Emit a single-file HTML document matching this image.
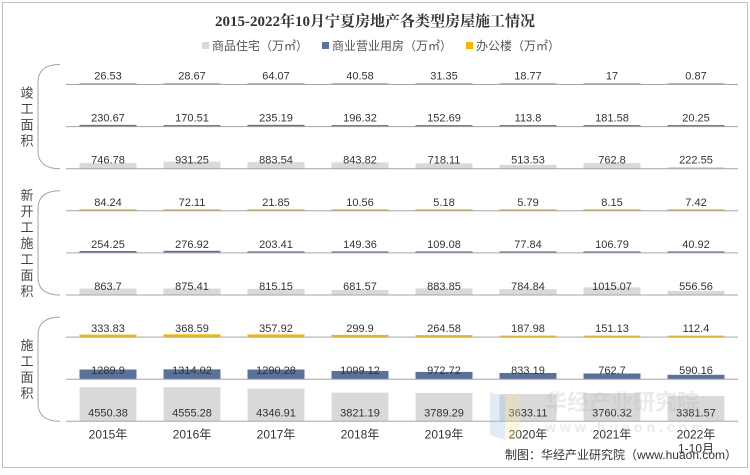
<!DOCTYPE html>
<html><head><meta charset="utf-8">
<style>
html,body{margin:0;padding:0;background:#fff;}
body{width:750px;height:470px;overflow:hidden;font-family:"Liberation Sans","Noto Sans CJK SC",sans-serif;}
svg text{font-family:"Liberation Sans","Noto Sans CJK SC",sans-serif;}
svg text.title{font-family:"Liberation Serif","Noto Serif CJK SC",serif;}
</style></head><body>
<svg id="chart" width="750" height="470" xmlns="http://www.w3.org/2000/svg">
<rect x="2.5" y="2.5" width="745" height="465" fill="#fff" stroke="#bfbfbf"/>
<text class="title" x="375" y="26" text-anchor="middle" font-size="15" font-weight="bold" fill="#333">2015-2022年10月宁夏房地产各类型房屋施工情况</text>
<g font-size="12" fill="#555">
<g><rect x="202" y="42" width="7" height="7" fill="#d9d9d9"/><text x="212" y="50">商品住宅（万㎡）</text></g>
<g><rect x="322" y="42" width="7" height="7" fill="#5b7199"/><text x="332" y="50">商业营业用房（万㎡）</text></g>
<g><rect x="466" y="42" width="7" height="7" fill="#f2b600"/><text x="476" y="50">办公楼（万㎡）</text></g>
</g>
<g id="brackets" fill="none" stroke="#a6a6a6" stroke-width="1"></g>
<g id="plot"></g>
<g opacity="0.3">
<polygon points="490,392 505,397 505,440 490,435" fill="#9dc3e6"/>
<polygon points="505,397 520,392 520,435 505,440" fill="#ffe699"/>
<text x="545" y="410" font-size="22" font-weight="bold" fill="#bbb">华经产业研究院</text>
<text x="545" y="432" font-size="14" font-weight="bold" fill="#bbb" letter-spacing="4">www.huaon.com</text>
</g>
<text x="737" y="459" text-anchor="end" font-size="12" fill="#333">制图：华经产业研究院（www.huaon.com）</text>
</svg>
<script>
const categories=["2015年","2016年","2017年","2018年","2019年","2020年","2021年","2022年"];
const groups=["竣工面积","新开工施工面积","施工面积"];
const groupLabels=[["竣","工","面","积"],["新","开","工","施","工","面","积"],["施","工","面","积"]];
const doneOffice=[26.53,28.67,64.07,40.58,31.35,18.77,17,0.87];
const doneCommercial=[230.67,170.51,235.19,196.32,152.69,113.8,181.58,20.25];
const doneResidential=[746.78,931.25,883.54,843.82,718.11,513.53,762.8,222.55];
const newOffice=[84.24,72.11,21.85,10.56,5.18,5.79,8.15,7.42];
const newCommercial=[254.25,276.92,203.41,149.36,109.08,77.84,106.79,40.92];
const newResidential=[863.7,875.41,815.15,681.57,883.85,784.84,1015.07,556.56];
const conOffice=[333.83,368.59,357.92,299.9,264.58,187.98,151.13,112.4];
const conCommercial=[1289.9,1314.02,1290.28,1099.12,972.72,833.19,762.7,590.16];
const conResidential=[4550.38,4555.28,4346.91,3821.19,3789.29,3633.11,3760.32,3381.57];

const rows=[
 {d:doneOffice,c:"#f2b600",n:"done-office"},
 {d:doneCommercial,c:"#5b7199",n:"done-commercial"},
 {d:doneResidential,c:"#d9d9d9",n:"done-residential"},
 {d:newOffice,c:"#f2b600",n:"new-office"},
 {d:newCommercial,c:"#5b7199",n:"new-commercial"},
 {d:newResidential,c:"#d9d9d9",n:"new-residential"},
 {d:conOffice,c:"#f2b600",n:"construction-office"},
 {d:conCommercial,c:"#5b7199",n:"construction-commercial"},
 {d:conResidential,c:"#d9d9d9",n:"construction-residential"}
];
const NS="http://www.w3.org/2000/svg";
const plot=document.getElementById('plot');
const x0=66,x1=738,bw=(x1-x0)/categories.length,barW=57;
const firstBase=84.5,rowStep=42.1;
const xC=i=>x0+bw*(i+0.5);
const yBase=r=>firstBase+rowStep*r;
const hScale=v=>v/133.5;
function mk(t,a){const e=document.createElementNS(NS,t);for(const k in a)e.setAttribute(k,a[k]);return e;}
rows.forEach((row,r)=>{
  const b=yBase(r);
  row.d.forEach((v,i)=>{
    const h=Math.max(1.5,hScale(v));
    const rect=mk('rect',{x:xC(i)-barW/2,y:b-h,width:barW,height:h,fill:row.c});
    
    
    plot.appendChild(rect);
    const t=mk('text',{x:xC(i),y:b-5,'text-anchor':'middle','font-size':'11',fill:'#333'});
    t.textContent=String(v);
    
    
    plot.appendChild(t);
  });
  const ln=mk('line',{x1:x0,x2:x1,y1:b,y2:b,stroke:'#a6a6a6','stroke-width':1});
  
  
  plot.appendChild(ln);
});
categories.forEach((c,i)=>{
  const t=mk('text',{x:xC(i),y:yBase(8)+17,'text-anchor':'middle','font-size':'12',fill:'#333'});
  t.textContent=c;
  
  
  plot.appendChild(t);
});
const sub=mk('text',{x:xC(7),y:yBase(8)+31,'text-anchor':'middle','font-size':'12',fill:'#333'});
sub.textContent="1-10月";


plot.appendChild(sub);
const br=document.getElementById('brackets');
groups.forEach((g,k)=>{
  const top=yBase(3*k)-20,bot=yBase(3*k+2);
  const p=mk('path',{d:`M60 ${top} Q38 ${top} 38 ${top+18} L38 ${bot-18} Q38 ${bot} 60 ${bot}`});
  
  
  br.appendChild(p);
  const chars=groupLabels[k];
  const mid=(top+bot)/2, st=mid-(chars.length-1)*16/2;
  chars.forEach((ch,j)=>{
    const t=mk('text',{x:27,y:st+j*16+5,'text-anchor':'middle','font-size':'13',fill:'#444'});
    t.textContent=ch;
    
    
    plot.appendChild(t);
  });
});
</script>
</body></html>
